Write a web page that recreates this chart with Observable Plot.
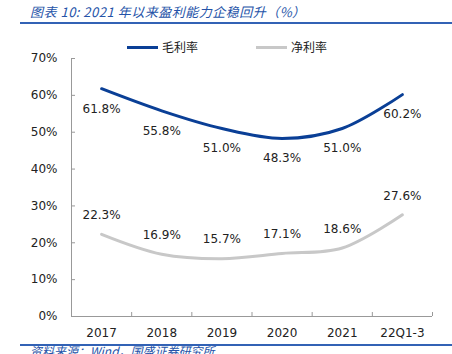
<!DOCTYPE html>
<html><head><meta charset="utf-8">
<script src="https://cdn.jsdelivr.net/npm/d3@7"></script>
<script src="https://cdn.jsdelivr.net/npm/@observablehq/plot@0.6"></script>
<style>
html,body{margin:0;padding:0;background:#fff;}
#wrap{position:relative;width:452px;height:354px;overflow:hidden;font-family:"DejaVu Sans",Verdana,sans-serif;}
.title{position:absolute;left:30px;top:2px;font-size:13px;font-style:italic;color:#2553a8;white-space:nowrap;letter-spacing:0.5px;font-family:"Noto Sans CJK SC","DejaVu Sans",sans-serif;}
.rule{position:absolute;left:20px;width:432px;height:2px;background:#3262b5;}
.leg{position:absolute;top:38px;font-size:12px;color:#222;white-space:nowrap;font-family:"Noto Sans CJK SC",sans-serif;}
.sw{position:absolute;height:3px;top:46px;}
.src{position:absolute;left:30px;top:344px;font-size:12px;font-style:italic;color:#2553a8;white-space:nowrap;line-height:14px;font-family:"Noto Sans CJK SC",sans-serif;}
#chart{position:absolute;left:0;top:48px;}
</style></head>
<body>
<div id="wrap">
  <div class="title">图表 10:  2021 年以来盈利能力企稳回升（%）</div>
  <div class="rule" style="top:22px"></div>
  <div class="sw" style="left:127px;width:31px;background:#0a3f96"></div>
  <div class="leg" style="left:162px">毛利率</div>
  <div class="sw" style="left:256px;width:31px;background:#c8c8c8"></div>
  <div class="leg" style="left:291px">净利率</div>
  <div id="chart"></div>
  <div class="src">资料来源：Wind，国盛证券研究所</div>
  <div class="rule" style="top:344px"></div>
</div>
<script>
const categories = ["2017","2018","2019","2020","2021","22Q1-3"];
const grossMargin = [61.8, 55.8, 51.0, 48.3, 51.0, 60.2];
const netMargin = [22.3, 16.9, 15.7, 17.1, 18.6, 27.6];
const yTicks = [0,10,20,30,40,50,60,70];

const gross = categories.map((c,i)=>({i, cat:c, v:grossMargin[i]}));
const net = categories.map((c,i)=>({i, cat:c, v:netMargin[i]}));
const bounds = d3.range(categories.length+1).map(k=>k-0.5);

const chart = Plot.plot({
  width: 452,
  height: 296,
  marginLeft: 71,
  marginRight: 20,
  marginTop: 10,
  marginBottom: 28,
  style: {fontFamily: '"DejaVu Sans",Verdana,sans-serif', fontSize: "12px", color: "#222", background: "transparent"},
  x: {type: "linear", domain: [-0.5, categories.length-0.5], axis: null},
  y: {domain: [0, 70], axis: null},
  marks: [
    Plot.ruleX([-0.5], {stroke: "#999", strokeWidth: 1}),
    Plot.ruleY([0], {stroke: "#999", strokeWidth: 1}),
    Plot.axisY({ticks: yTicks, tickSize: -4, tickPadding: 18, tickFormat: d=>d+"%", label: null, stroke: "#999", fill:"#222", fontSize: 12}),
    Plot.axisX({ticks: bounds, tickSize: -4, tickFormat: ()=>"", label: null, stroke: "#999"}),
    Plot.axisX({ticks: d3.range(categories.length), tickSize: 0, tickPadding: 12, tickFormat: i=>categories[i], label: null, fill:"#222", fontSize: 12}),
    Plot.line(net, {x: "i", y: "v", stroke: "#c8c8c8", strokeWidth: 3, curve: "catmull-rom"}),
    Plot.line(gross, {x: "i", y: "v", stroke: "#0a3f96", strokeWidth: 3, curve: "catmull-rom"}),
    Plot.text(gross, {x: "i", y: "v", text: d=>d.v.toFixed(1)+"%", dy: 20, fill: "#222", fontSize: 12}),
    Plot.text(net, {x: "i", y: "v", text: d=>d.v.toFixed(1)+"%", dy: -19, fill: "#222", fontSize: 12})
  ]
});
document.getElementById("chart").appendChild(chart);
</script>
</body></html>
